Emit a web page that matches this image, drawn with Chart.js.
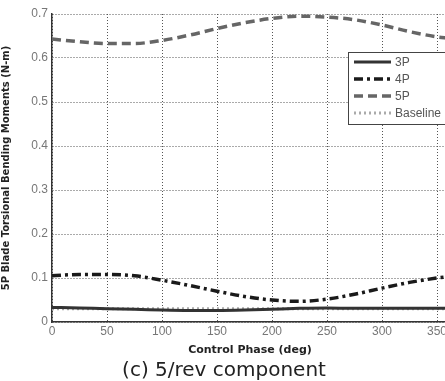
<!DOCTYPE html>
<html>
<head>
<meta charset="utf-8">
<script src="https://cdn.jsdelivr.net/npm/chart.js@4"></script>
<style>
  html, body { margin: 0; padding: 0; background: #fff; overflow: hidden; }
  #wrap { width: 460px; height: 381px; }
</style>
</head>
<body>
<div id="wrap"><canvas id="chart" width="460" height="381"></canvas></div>
<script>
// control phase (deg)
const phase = [0, 25, 50, 75, 100, 125, 150, 175, 200, 225, 250, 275, 300, 325, 350, 360];
const p3 = [0.033, 0.032, 0.030, 0.029, 0.027, 0.026, 0.026, 0.027, 0.029, 0.031, 0.032, 0.031, 0.031, 0.031, 0.031, 0.031];
const p4 = [0.105, 0.108, 0.108, 0.105, 0.095, 0.083, 0.070, 0.058, 0.050, 0.047, 0.052, 0.063, 0.077, 0.090, 0.100, 0.103];
const p5 = [0.643, 0.637, 0.633, 0.633, 0.640, 0.652, 0.667, 0.680, 0.690, 0.695, 0.693, 0.687, 0.675, 0.660, 0.648, 0.645];
const baseline = [0.030, 0.030, 0.030, 0.030, 0.030, 0.030, 0.030, 0.030, 0.030, 0.030, 0.030, 0.030, 0.030, 0.030, 0.030, 0.030];
const seriesNames = ["3P", "4P", "5P", "Baseline"];

function pts(vals) {
  return phase.map((x, i) => ({ x: x, y: vals[i] }));
}

// legend drawn inside the plot, top right
const boxLegend = {
  id: 'boxLegend',
  afterDraw(chart) {
    const ctx = chart.ctx;
    const x0 = 348, y0 = 52, w = 120, h = 72;
    ctx.save();
    ctx.fillStyle = '#fff';
    ctx.strokeStyle = '#444';
    ctx.lineWidth = 1;
    ctx.fillRect(x0, y0, w, h);
    ctx.strokeRect(x0 + 0.5, y0 + 0.5, w, h);
    ctx.font = '12px "Liberation Sans", Arial, sans-serif';
    ctx.textBaseline = 'middle';
    chart.data.datasets.forEach((ds, i) => {
      const y = 62 + i * 17;
      ctx.strokeStyle = ds.borderColor;
      ctx.lineWidth = ds.borderWidth;
      ctx.setLineDash(ds.borderDash || []);
      ctx.beginPath();
      ctx.moveTo(354, y);
      ctx.lineTo(391, y);
      ctx.stroke();
      ctx.setLineDash([]);
      ctx.fillStyle = '#555';
      ctx.fillText(ds.label, 395, y + 1);
    });
    ctx.restore();
  }
};

const ctx = document.getElementById('chart').getContext('2d');
const chart = new Chart(ctx, {
  type: 'line',
  data: {
    datasets: [
      { label: seriesNames[0], data: pts(p3), borderColor: '#333', borderWidth: 3 },
      { label: seriesNames[1], data: pts(p4), borderColor: '#1a1a1a', borderWidth: 3.5, borderDash: [9, 4, 3, 4] },
      { label: seriesNames[2], data: pts(p5), borderColor: '#666', borderWidth: 3.5, borderDash: [9, 5] },
      { label: seriesNames[3], data: pts(baseline), borderColor: '#aaa', borderWidth: 3, borderDash: [2, 3] }
    ]
  },
  options: {
    responsive: false,
    animation: false,
    cubicInterpolationMode: 'monotone',
    elements: { point: { radius: 0 } },
    layout: { padding: { top: 14, right: 12, left: 0, bottom: 0 } },
    scales: {
      x: {
        type: 'linear',
        min: 0,
        max: 360,
        afterFit: (scale) => { scale.height = 35; },
        ticks: { stepSize: 50, includeBounds: false, autoSkip: false, color: '#777', font: { size: 12, family: 'Liberation Sans' }, padding: 2, maxRotation: 0 },
        grid: { color: '#555', lineWidth: 1, drawTicks: false },
        border: { color: '#333', width: 1.5, dash: [1, 2] },
        title: { display: true, text: 'Control Phase (deg)', color: '#222', font: { size: 11, weight: 'bold', family: 'DejaVu Sans' }, padding: { top: 1, bottom: 0 } }
      },
      y: {
        min: 0,
        max: 0.7,
        afterFit: (scale) => { scale.width = 52; },
        ticks: { stepSize: 0.1, color: '#777', font: { size: 12, family: 'Liberation Sans' }, padding: 4, callback: v => v === 0 ? '0' : v.toFixed(1) },
        grid: { color: '#555', lineWidth: 1, drawTicks: false },
        border: { color: '#333', width: 1.5, dash: [1, 2] },
        title: { display: true, text: '5P Blade Torsional Bending Moments (N-m)', color: '#222', font: { size: 10, weight: 'bold', family: 'DejaVu Sans' }, padding: { top: 0, bottom: 2 } }
      }
    },
    plugins: {
      legend: { display: false },
      tooltip: { enabled: false },
      title: {
        display: true,
        position: 'bottom',
        text: '(c) 5/rev component',
        color: '#222',
        font: { size: 20, weight: 'normal', family: 'DejaVu Sans', lineHeight: 1.0 },
        padding: { top: 4, bottom: 0 }
      }
    }
  },
  plugins: [boxLegend]
});
</script>
</body>
</html>
